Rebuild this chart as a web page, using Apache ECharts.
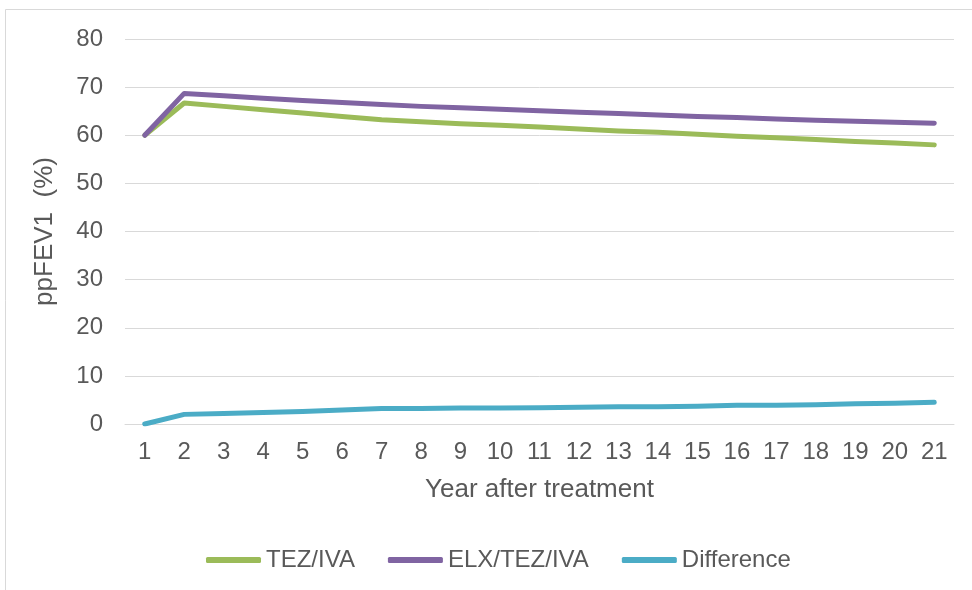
<!DOCTYPE html>
<html>
<head>
<meta charset="utf-8">
<script src="https://cdn.jsdelivr.net/npm/echarts@6/dist/echarts.min.js"></script>
<style>html,body{margin:0;padding:0;background:#fff;}#c{width:972px;height:590px;}</style>
</head>
<body>
<div id="c"></div>
<script>
var years = ['1','2','3','4','5','6','7','8','9','10','11','12','13','14','15','16','17','18','19','20','21'];
var tezIva = [60, 66.7, 66.0, 65.3, 64.6, 63.9, 63.2, 62.8, 62.4, 62.1, 61.7, 61.3, 60.9, 60.6, 60.2, 59.8, 59.5, 59.1, 58.7, 58.4, 58.0];
var elxTezIva = [60, 68.7, 68.2, 67.7, 67.2, 66.8, 66.4, 66.0, 65.7, 65.4, 65.1, 64.8, 64.5, 64.2, 63.9, 63.7, 63.4, 63.1, 62.9, 62.7, 62.5];
var difference = [0, 2.0, 2.2, 2.4, 2.6, 2.9, 3.2, 3.2, 3.3, 3.3, 3.4, 3.5, 3.6, 3.6, 3.7, 3.9, 3.9, 4.0, 4.2, 4.3, 4.5];
var yTicks = {min: 0, max: 80, interval: 10};

var font = 'Liberation Sans, Arial, sans-serif';
var txt = '#595959';
var fs = 24;
var fsName = 26;
var chart = echarts.init(document.getElementById('c'), null, {renderer: 'canvas'});
function mk(name, data, color) {
  return {
    name: name, type: 'line', data: data, symbol: 'none', smooth: false,
    lineStyle: {color: color, width: 5, cap: 'round', join: 'round'},
    itemStyle: {color: color}
  };
}
chart.setOption({
  animation: false,
  backgroundColor: '#fff',
  graphic: [{
    type: 'rect', shape: {x: 5.5, y: 9.5, width: 1200, height: 900},
    style: {fill: 'none', stroke: '#d9d9d9', lineWidth: 1}, silent: true
  }],
  grid: {left: 125, right: 18, top: 39, height: 385},
  legend: {
    top: 543, left: 201, itemWidth: 55, itemHeight: 6, itemGap: 33,
    icon: 'roundRect',
    textStyle: {color: txt, fontSize: fs, fontFamily: font},
    data: ['TEZ/IVA', 'ELX/TEZ/IVA', 'Difference']
  },
  xAxis: {
    type: 'category', data: years, boundaryGap: true,
    name: 'Year after treatment', nameLocation: 'middle', nameGap: 53,
    nameTextStyle: {color: txt, fontSize: fsName, fontFamily: font},
    axisLine: {show: true, lineStyle: {color: '#d9d9d9', width: 1}},
    axisTick: {show: false},
    axisLabel: {color: txt, fontSize: fs, fontFamily: font, margin: 16, interval: 0}
  },
  yAxis: {
    type: 'value', min: yTicks.min, max: yTicks.max, interval: yTicks.interval,
    name: 'ppFEV1  (%)', nameLocation: 'middle', nameGap: 67, nameRotate: 90,
    nameTextStyle: {color: txt, fontSize: fsName, fontFamily: font},
    axisLine: {show: false}, axisTick: {show: false},
    splitLine: {lineStyle: {color: '#d9d9d9', width: 1}},
    axisLabel: {color: txt, fontSize: fs, fontFamily: font, margin: 22}
  },
  series: [
    mk('TEZ/IVA', tezIva, '#9BBB59'),
    mk('ELX/TEZ/IVA', elxTezIva, '#8064A2'),
    mk('Difference', difference, '#4BACC6')
  ]
});
</script>
</body>
</html>
